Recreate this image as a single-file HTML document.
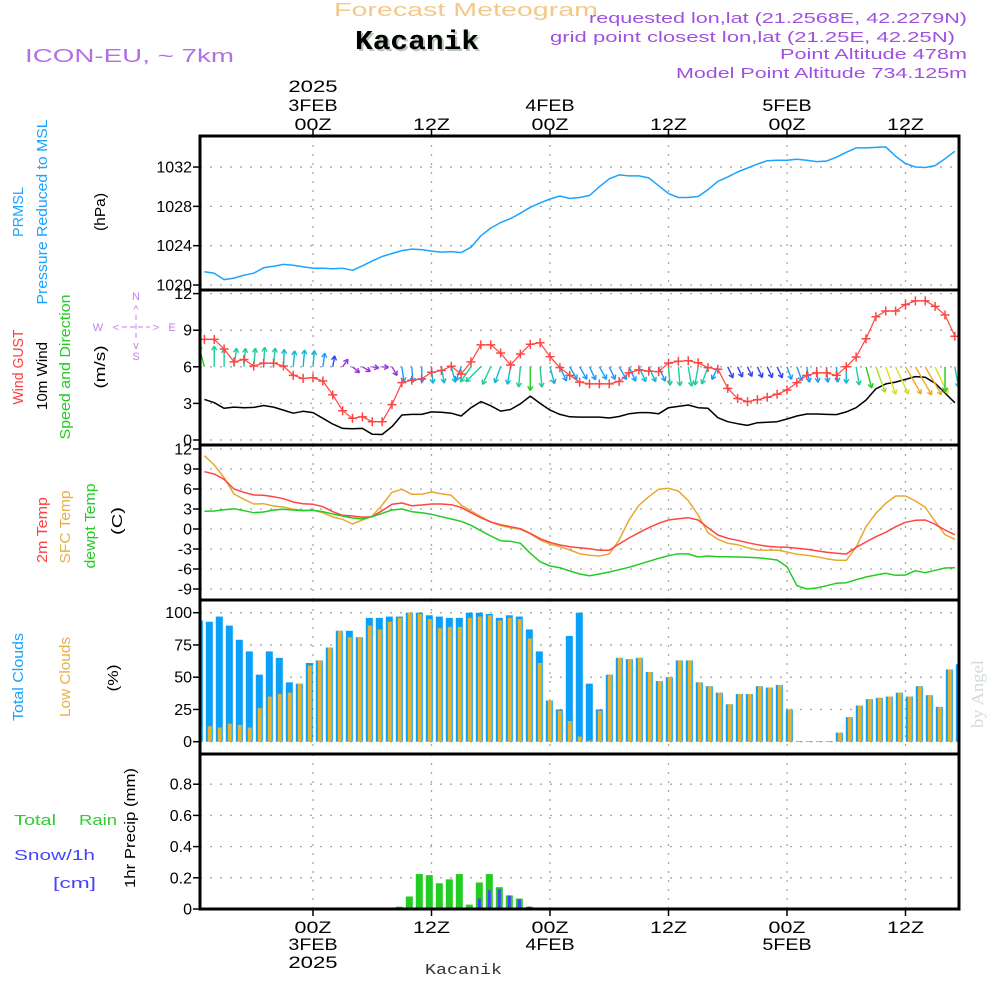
<!DOCTYPE html>
<html><head><meta charset="utf-8"><style>
html,body{margin:0;padding:0;background:#fff;}
svg{display:block;font-family:"Liberation Sans",sans-serif;}
</style></head><body>
<svg id="chart" width="1000" height="1000" viewBox="0 0 1000 1000" xmlns="http://www.w3.org/2000/svg">
<defs>
<clipPath id="plotclip"><rect x="201" y="137" width="757" height="771"/></clipPath>
</defs>
<!-- header -->
<text x="334" y="16" font-size="18" fill="#f2c98a" textLength="264" lengthAdjust="spacingAndGlyphs">Forecast Meteogram</text>
<text x="357" y="51" font-size="27" font-weight="bold" font-family="Liberation Mono, monospace" fill="#b8c8b8" textLength="124" lengthAdjust="spacingAndGlyphs">Kacanik</text>
<text x="355" y="49" font-size="27" font-weight="bold" font-family="Liberation Mono, monospace" fill="#000" textLength="124" lengthAdjust="spacingAndGlyphs">Kacanik</text>
<text x="25" y="62" font-size="18" fill="#b070e8" textLength="209" lengthAdjust="spacingAndGlyphs">ICON-EU, ~ 7km</text>
<text x="589" y="23" font-size="15" fill="#a050e0" textLength="378" lengthAdjust="spacingAndGlyphs">requested lon,lat (21.2568E, 42.2279N)</text>
<text x="550" y="42" font-size="15" fill="#a050e0" textLength="405" lengthAdjust="spacingAndGlyphs">grid point closest lon,lat (21.25E, 42.25N)</text>
<text x="780" y="59" font-size="15" fill="#a050e0" textLength="187" lengthAdjust="spacingAndGlyphs">Point Altitude 478m</text>
<text x="676" y="78" font-size="15" fill="#a050e0" textLength="291" lengthAdjust="spacingAndGlyphs">Model Point Altitude 734.125m</text>

<!-- left panel labels -->
<g font-size="15" text-anchor="middle">
<text transform="translate(23,212) rotate(-90)" fill="#1aa3ff" textLength="50" lengthAdjust="spacingAndGlyphs">PRMSL</text>
<text transform="translate(47,212) rotate(-90)" fill="#1aa3ff" textLength="185" lengthAdjust="spacingAndGlyphs">Pressure Reduced to MSL</text>
<text transform="translate(105,212) rotate(-90)" fill="#000" textLength="38" lengthAdjust="spacingAndGlyphs">(hPa)</text>
<text transform="translate(23,367) rotate(-90)" fill="#ff4040" textLength="75" lengthAdjust="spacingAndGlyphs">Wind GUST</text>
<text transform="translate(47,376) rotate(-90)" fill="#000" textLength="68" lengthAdjust="spacingAndGlyphs">10m Wind</text>
<text transform="translate(70,367) rotate(-90)" fill="#22cc22" textLength="145" lengthAdjust="spacingAndGlyphs">Speed and Direction</text>
<text transform="translate(105,367) rotate(-90)" fill="#000" textLength="43" lengthAdjust="spacingAndGlyphs">(m/s)</text>
<text transform="translate(47,530) rotate(-90)" fill="#ff4040" textLength="66" lengthAdjust="spacingAndGlyphs">2m Temp</text>
<text transform="translate(70,527) rotate(-90)" fill="#e8b040" textLength="73" lengthAdjust="spacingAndGlyphs">SFC Temp</text>
<text transform="translate(95,526) rotate(-90)" fill="#22cc22" textLength="85" lengthAdjust="spacingAndGlyphs">dewpt Temp</text>
<text transform="translate(122,521) rotate(-90)" fill="#000" textLength="28" lengthAdjust="spacingAndGlyphs">(C)</text>
<text transform="translate(23,677) rotate(-90)" fill="#1aa3ff" textLength="88" lengthAdjust="spacingAndGlyphs">Total Clouds</text>
<text transform="translate(70,677) rotate(-90)" fill="#e8b040" textLength="80" lengthAdjust="spacingAndGlyphs">Low Clouds</text>
<text transform="translate(118,678) rotate(-90)" fill="#000" textLength="27" lengthAdjust="spacingAndGlyphs">(%)</text>
<text transform="translate(135,828) rotate(-90)" fill="#000" textLength="120" lengthAdjust="spacingAndGlyphs">1hr Precip (mm)</text>
</g>
<text x="14" y="825" font-size="15" fill="#33cc33" textLength="42" lengthAdjust="spacingAndGlyphs">Total</text>
<text x="79" y="825" font-size="15" fill="#33cc33" textLength="38" lengthAdjust="spacingAndGlyphs">Rain</text>
<text x="14" y="860" font-size="15" fill="#4444ff" textLength="81" lengthAdjust="spacingAndGlyphs">Snow/1h</text>
<text x="53" y="888" font-size="15" fill="#4444ff" textLength="43" lengthAdjust="spacingAndGlyphs">[cm]</text>

<!-- compass -->
<g fill="#c080f0" font-size="11" text-anchor="middle">
<text x="136" y="300">N</text><text x="136" y="360">S</text><text x="98" y="331">W</text><text x="172" y="331">E</text>
<text x="116" y="331">&lt;</text><text x="156" y="331">&gt;</text>
<text x="136" y="313">^</text><text x="136" y="349">v</text>
<line x1="122" y1="327" x2="150" y2="327" stroke="#c080f0" stroke-dasharray="5,3"/>
<line x1="136" y1="315" x2="136" y2="340" stroke="#c080f0" stroke-dasharray="5,4"/>
</g>

<text transform="translate(983,694) rotate(-90)" font-size="17" font-family="Liberation Serif, serif" fill="#d2dcd2" text-anchor="middle" textLength="68" lengthAdjust="spacingAndGlyphs">by Angel</text>
<text x="425" y="974" font-size="15" font-family="Liberation Mono, monospace" fill="#333" textLength="77" lengthAdjust="spacingAndGlyphs">Kacanik</text>

<g id="grid"></g>
<g id="marks" clip-path="url(#plotclip)"></g>
<g id="axes"></g>
</svg>
<script>
// ---- data (hourly, h = -11 .. 65 hours from 00Z 3FEB) ----
const startHour = -11;
const pressure = [1021.35,1021.2,1020.55,1020.7,1021.0,1021.2,1021.75,1021.9,1022.1,1022.0,1021.85,1021.7,1021.7,1021.65,1021.7,1021.5,1021.95,1022.45,1022.9,1023.2,1023.5,1023.65,1023.6,1023.45,1023.35,1023.4,1023.3,1023.85,1025.0,1025.8,1026.35,1026.75,1027.3,1027.9,1028.35,1028.75,1029.05,1028.8,1028.9,1029.1,1030.0,1030.8,1031.2,1031.1,1031.1,1030.9,1030.1,1029.3,1028.9,1028.9,1029.0,1029.7,1030.55,1031.0,1031.5,1031.9,1032.3,1032.65,1032.7,1032.7,1032.8,1032.7,1032.55,1032.6,1033.0,1033.5,1033.95,1033.95,1034.0,1034.05,1033.1,1032.35,1032.0,1031.95,1032.15,1032.85,1033.6];
const windGust = [8.25,8.25,7.46,6.4,6.6,6.07,6.3,6.3,6.07,5.3,5.05,5.1,4.84,3.7,2.4,1.78,1.9,1.5,1.5,2.9,4.7,4.9,5.0,5.55,5.7,6.05,5.4,6.4,7.8,7.8,7.13,6.15,7.05,7.85,7.97,6.83,5.93,5.3,4.74,4.6,4.6,4.6,4.8,5.5,5.75,5.65,5.6,6.3,6.45,6.5,6.33,5.93,5.8,4.23,3.4,3.15,3.3,3.5,3.75,4.1,4.7,5.3,5.5,5.5,5.3,6.0,6.8,8.3,10.1,10.57,10.57,11.1,11.4,11.4,10.95,10.25,8.5];
const windSpeed = [3.33,3.06,2.6,2.7,2.65,2.67,2.83,2.7,2.45,2.2,2.35,2.25,1.78,1.3,0.95,0.93,0.95,0.47,0.45,1.1,2.05,2.1,2.1,2.3,2.28,2.2,1.97,2.65,3.15,2.8,2.37,2.5,2.97,3.6,3.0,2.45,2.1,1.9,1.88,1.88,1.88,1.8,1.93,2.15,2.25,2.25,2.15,2.65,2.75,2.87,2.65,2.6,1.83,1.5,1.34,1.2,1.42,1.45,1.5,1.72,1.97,2.13,2.13,2.1,2.08,2.3,2.65,3.27,4.2,4.6,4.75,4.97,5.2,5.15,4.65,3.85,3.05];
const windDir = [345,0,0,8,5,5,3,5,3,5,5,5,8,10,35,130,120,100,95,150,172,175,178,175,170,165,200,215,225,205,200,190,185,180,175,165,155,150,150,155,150,155,150,155,155,155,155,175,175,170,190,200,205,155,155,155,155,155,155,160,160,170,175,175,175,180,170,165,160,160,155,150,150,150,155,180,170];
const temp2m = [8.6,8.25,7.45,6.0,5.5,5.1,5.05,4.85,4.55,4.05,3.8,3.7,3.35,2.6,2.05,1.95,1.75,1.85,2.75,3.7,3.9,3.5,3.6,3.75,3.75,3.65,3.25,2.45,1.7,1.05,0.65,0.35,0.05,-0.65,-1.45,-2.0,-2.4,-2.65,-2.8,-2.95,-3.2,-3.2,-2.25,-1.35,-0.55,0.2,0.85,1.35,1.55,1.7,1.35,0.2,-0.9,-1.4,-1.7,-2.05,-2.35,-2.6,-2.7,-2.75,-2.9,-3.05,-3.25,-3.5,-3.65,-3.75,-2.75,-1.95,-1.15,-0.5,0.35,1.0,1.3,1.35,0.7,-0.15,-0.85];
const tempSfc = [11.0,9.6,7.7,5.25,4.45,3.75,3.8,3.45,3.3,2.95,2.8,2.8,2.45,1.8,1.45,0.75,1.35,1.95,3.6,5.5,5.95,5.2,5.2,5.55,5.3,5.05,3.6,2.7,1.85,1.05,0.5,0.2,-0.05,-0.7,-1.65,-2.25,-2.65,-3.15,-3.7,-3.95,-4.05,-3.75,-1.65,1.35,3.55,4.85,5.95,6.1,5.7,4.25,2.1,-0.55,-1.55,-2.15,-2.35,-2.8,-3.15,-3.2,-3.15,-3.45,-3.8,-3.95,-4.15,-4.45,-4.7,-4.7,-2.75,0.35,2.35,3.85,4.95,4.95,4.2,3.25,1.15,-0.85,-1.55];
const tempDew = [2.65,2.7,2.9,3.05,2.75,2.45,2.55,2.85,2.95,2.85,2.75,2.8,2.6,2.25,1.95,1.65,1.5,1.85,2.35,2.85,3.0,2.6,2.45,2.2,1.85,1.5,1.15,0.55,-0.25,-1.05,-1.75,-1.85,-2.15,-3.65,-4.9,-5.55,-5.8,-6.3,-6.75,-7.0,-6.75,-6.45,-6.1,-5.75,-5.3,-4.85,-4.4,-4.0,-3.7,-3.75,-4.2,-4.05,-4.15,-4.15,-4.2,-4.25,-4.3,-4.45,-4.65,-5.65,-8.5,-9.0,-8.85,-8.5,-8.15,-8.05,-7.6,-7.2,-6.9,-6.65,-6.95,-6.9,-6.25,-6.55,-6.2,-5.85,-5.8];
// bar series (one bar per hourly interval)
const cloudTotal = [94,93,97,90,79,70,52,70,65,46,45,61,63,73,86,86,81,96,96,97,97,100,100,98,97,96,96,100,100,99,96,98,97,87,70,32,25,82,100,45,25,52,65,64,65,54,47,50,63,63,46,43,38,29,37,37,43,42,44,25,0.5,0.5,0.5,0.5,7,19,28,33,34,35,38,35,43,36,27,56,60];
const cloudLow = [12,12,11,14,13,11,26,35,37,38,45,59,63,73,86,81,81,90,87,93,96,100,99,95,88,89,89,96,97,98,94,96,95,80,61,32,24,16,4,1,24,52,65,64,65,54,47,50,63,63,46,43,38,29,37,37,43,42,44,25,0.5,0.5,0.5,0.5,7,19,28,33,34,35,38,35,43,36,27,56,60];
const rainTotal = [0,0,0,0,0,0,0,0,0,0,0,0,0,0,0,0,0,0,0,0.003,0.015,0.08,0.224,0.217,0.165,0.19,0.224,0.028,0.17,0.224,0.14,0.087,0.067,0.015,0,0,0,0,0,0,0,0,0,0,0,0,0,0,0,0,0,0,0,0,0,0,0,0,0,0,0,0,0,0,0,0,0,0,0,0,0,0,0,0,0,0,0];
const snowTotal = [0,0,0,0,0,0,0,0,0,0,0,0,0,0,0,0,0,0,0,0,0,0,0,0,0,0,0,0,0.067,0.12,0.126,0.087,0.061,0.015,0,0,0,0,0,0,0,0,0,0,0,0,0,0,0,0,0,0,0,0,0,0,0,0,0,0,0,0,0,0,0,0,0,0,0,0,0,0,0,0,0,0,0];
const timeTickHours = [0,12,24,36,48,60];
const topTickLines = [["2025","3FEB","00Z"],["","","12Z"],["","4FEB","00Z"],["","","12Z"],["","5FEB","00Z"],["","","12Z"]];
const bottomTickLines = [["00Z","3FEB","2025"],["12Z","",""],["00Z","4FEB",""],["12Z","",""],["00Z","5FEB",""],["12Z","",""]];
const pressureTicks = [1020,1024,1028,1032];
const windTicks = [0,3,6,9,12];
const tempTicks = [-9,-6,-3,0,3,6,9,12];
const cloudTicks = [0,25,50,75,100];
const precipTicks = [0,0.2,0.4,0.6,0.8];
const precipTickLabels = ["0","0.2","0.4","0.6","0.8"];

// ---- scales ----
const X0=200, X1=959;
const xh = h => 313 + h*9.875;
const xb = k => 199.3 + k*10;
const yP = p => 285 - (p-1020)*9.83;
const yW = v => 440 - v*12.2;
const yT = t => 529 - t*6.667;
const yC = c => 741.7 - c*1.29;
const yR = r => 909 - r*156;
const panels = [[136,290],[290,445],[445,600],[600,754],[754,909]];

const NS="http://www.w3.org/2000/svg";
function mk(tag, attrs, parent){const e=document.createElementNS(NS,tag);for(const k in attrs)e.setAttribute(k,attrs[k]);parent.appendChild(e);return e;}
const grid=document.getElementById('grid'), marks=document.getElementById('marks'), axes=document.getElementById('axes');

// vertical grid lines
timeTickHours.forEach(h=>{
  panels.forEach(p=>{
    const l=mk('line',{x1:xh(h),x2:xh(h),y1:p[0],y2:p[1],stroke:'#a8a8a8','stroke-width':1.3,'stroke-dasharray':'2,7'},grid);
    
    
  });
});
function hgrid(ticks, yf, labels, nameBase, skipZero){
  ticks.forEach((t,i)=>{
    const y=yf(t);
    if(!(skipZero && t===0)){
      const g=mk('line',{x1:X0,x2:X1,y1:y,y2:y,stroke:'#a8a8a8','stroke-width':1.3,'stroke-dasharray':'2,8'},grid);
      
      
    }
    mk('line',{x1:193,x2:200,y1:y,y2:y,stroke:'#000','stroke-width':1.5},axes);
    const tx=mk('text',{x:192,y:y+5.5,'font-size':16,'text-anchor':'end',fill:'#000'},axes);
    tx.textContent=labels?labels[i]:String(t);
    
    
  });
}
hgrid(pressureTicks,yP,null,'pressure');
hgrid(windTicks,yW,null,'wind');
hgrid(tempTicks,yT,null,'temp');
hgrid(cloudTicks,yC,null,'cloud');
hgrid(precipTicks,yR,precipTickLabels,'precip',true);

const hours = pressure.map((_,i)=>startHour+i);
function poly(vals, yf, color, w, name){
  const pts=vals.map((v,i)=>xh(hours[i]).toFixed(1)+','+yf(v).toFixed(1)).join(' ');
  const p=mk('polyline',{points:pts,fill:'none',stroke:color,'stroke-width':w,'stroke-linejoin':'round'},marks);
  
  
}
// pressure
poly(pressure,yP,'#1aa3ff',1.5,'pressure-line');
// temps
poly(tempSfc,yT,'#e8a830',1.5,'sfc-temp-line');
poly(temp2m,yT,'#ff4444',1.5,'2m-temp-line');
poly(tempDew,yT,'#22cc22',1.5,'dewpt-temp-line');
// wind speed
poly(windSpeed,yW,'#000',1.5,'wind-speed-line');
// wind arrows
function spdColor(s){
  if(s<1.2) return '#9933dd';
  if(s<1.6) return '#3344ee';
  if(s<2.2) return '#1a9cff';
  if(s<2.6) return '#10b8d0';
  if(s<3.2) return '#20cc9a';
  if(s<3.9) return '#22cc22';
  if(s<4.4) return '#aadd22';
  if(s<4.85) return '#dddd22';
  return '#eeaa22';
}
windDir.forEach((d,i)=>{
  const s=windSpeed[i], len=4+5.5*s, a=d*Math.PI/180;
  const x0=xh(hours[i]), y0=yW(6);
  const x1=x0+len*Math.sin(a), y1=y0-len*Math.cos(a);
  const c=spdColor(s);
  const g=mk('g',{stroke:c,'stroke-width':1.4,fill:'none'},marks);
  
  
  mk('line',{x1:x0,y1:y0,x2:x1,y2:y1},g);
  [150,-150].forEach(off=>{
    const b=(d+off)*Math.PI/180;
    mk('line',{x1:x1,y1:y1,x2:x1+5*Math.sin(b),y2:y1-5*Math.cos(b)},g);
  });
});
// gust
poly(windGust,yW,'#ff4444',1.2,'wind-gust-line');
windGust.forEach((v,i)=>{
  const x=xh(hours[i]), y=yW(v);
  const p=mk('path',{d:`M${x-4.5},${y}H${x+4.5}M${x},${y-4.5}V${y+4.5}`,stroke:'#ff4444','stroke-width':1.5},marks);
  
  
});
// clouds
cloudTotal.forEach((v,k)=>{
  const x=xb(k);
  const r=mk('rect',{x:x-3.5,y:yC(v),width:7,height:yC(0)-yC(v),fill:'#0aa0f8'},marks);
  
  
  const lv=cloudLow[k];
  const r2=mk('rect',{x:x-1.5,y:yC(lv),width:4,height:yC(0)-yC(lv),fill:'#e8b030'},marks);
  
  
});
// precip
rainTotal.forEach((v,k)=>{
  if(v<=0) return;
  const x=xb(k);
  const r=mk('rect',{x:x-3.5,y:yR(v),width:7,height:yR(0)-yR(v),fill:'#22cc22'},marks);
  
  
});
snowTotal.forEach((v,k)=>{
  if(v<=0) return;
  const x=xb(k);
  const r=mk('rect',{x:x-1.5,y:yR(v),width:3,height:yR(0)-yR(v),fill:'#4444ff'},marks);
  
  
});
// precip zero line
const zl=mk('line',{x1:X0,x2:X1,y1:yR(0),y2:yR(0),stroke:'#000','stroke-width':2.5,'stroke-dasharray':'7,2'},axes);



// frame
const fr=mk('rect',{x:X0,y:136,width:X1-X0,height:773,fill:'none',stroke:'#000','stroke-width':3},axes);


[290,445,600,754].forEach(y=>{
  const l=mk('line',{x1:X0,x2:X1,y1:y,y2:y,stroke:'#000','stroke-width':3},axes);
  
  
});
// time labels
timeTickHours.forEach((h,i)=>{
  const x=xh(h);
  mk('line',{x1:x,x2:x,y1:129,y2:136,stroke:'#000','stroke-width':1.5},axes);
  mk('line',{x1:x,x2:x,y1:909,y2:916,stroke:'#000','stroke-width':1.5},axes);
  const tys=[92,111,130];
  topTickLines[i].forEach((s,j)=>{
    if(!s) return;
    const t=mk('text',{x:x,y:tys[j],'font-size':17,'text-anchor':'middle',fill:'#000',textLength:s.length*12.3,lengthAdjust:'spacingAndGlyphs'},axes);
    t.textContent=s;
    
    
  });
  const bys=[933,950,968];
  bottomTickLines[i].forEach((s,j)=>{
    if(!s) return;
    const t=mk('text',{x:x,y:bys[j],'font-size':17,'text-anchor':'middle',fill:'#000',textLength:s.length*12.3,lengthAdjust:'spacingAndGlyphs'},axes);
    t.textContent=s;
    
    
  });
});
</script>
</body></html>
